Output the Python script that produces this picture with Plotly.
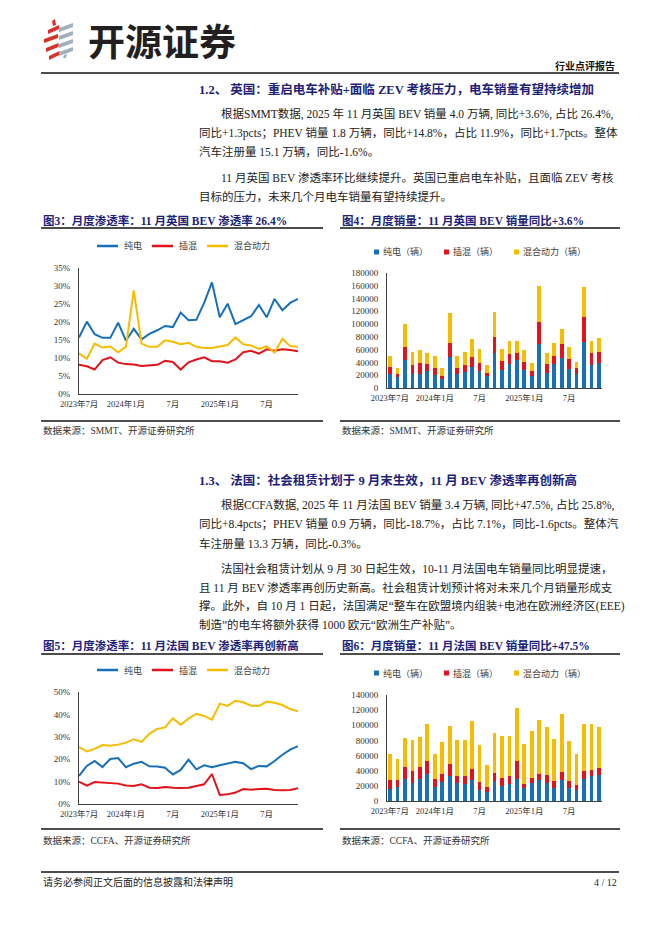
import plotly.graph_objects as go

W, H = 662, 936


def X(px):
    return px / W


def Y(py):
    return 1 - py / H


# ---------------- data ----------------
months = ["2023年7月", "2023年8月", "2023年9月", "2023年10月", "2023年11月", "2023年12月",
          "2024年1月", "2024年2月", "2024年3月", "2024年4月", "2024年5月", "2024年6月",
          "2024年7月", "2024年8月", "2024年9月", "2024年10月", "2024年11月", "2024年12月",
          "2025年1月", "2025年2月", "2025年3月", "2025年4月", "2025年5月", "2025年6月",
          "2025年7月", "2025年8月", "2025年9月", "2025年10月", "2025年11月"]
tick_vals = ["2023年7月", "2024年1月", "2024年7月", "2025年1月", "2025年7月"]
tick_text = ["2023年7月", "2024年1月", "7月", "2025年1月", "7月"]

series_names = ["纯电", "插混", "混合动力"]
bar_names = ["纯电（辆）", "插混（辆）", "混合动力（辆）"]

# UK penetration (%)
uk_bev_share = [15.7, 20.1, 16.6, 15.6, 15.6, 19.8, 14.8, 18.1, 15.2, 16.7, 17.7, 18.9, 18.6, 22.6, 20.5,
                20.6, 25.3, 31.0, 21.3, 25.1, 19.4, 20.5, 21.6, 24.7, 21.3, 26.4, 23.3, 25.3, 26.4]
uk_phev_share = [8.1, 7.7, 6.8, 9.4, 10.2, 8.7, 8.3, 8.2, 7.8, 7.9, 8.1, 9.2, 8.9, 6.8, 8.8,
                 9.6, 10.2, 9.1, 9.1, 8.7, 9.6, 11.6, 12.0, 11.2, 12.4, 12.0, 12.4, 12.2, 11.9]
uk_hev_share = [11.3, 9.8, 14.0, 12.9, 13.2, 11.6, 13.1, 28.8, 14.0, 13.1, 13.1, 14.9, 14.5, 13.8, 14.2,
                13.1, 12.8, 12.8, 13.2, 13.6, 15.7, 13.8, 13.5, 12.5, 13.2, 11.5, 15.3, 13.3, 13.1]

# UK monthly sales (vehicles)
uk_bev_sales = [21500, 17300, 44000, 22500, 22500, 27200, 19900, 13600, 48200, 21500, 24600, 33000, 26200, 18300,
                55500, 28800, 37700, 43500, 28800, 18800, 69100, 24100, 37200, 47600, 29800, 22500, 72300, 36100, 39300]
uk_phev_sales = [12000, 5200, 19400, 14100, 16800, 11000, 12000, 5800, 23000, 10400, 12000, 16200, 13600, 5300,
                 25100, 14100, 15200, 12000, 12000, 7900, 33500, 14100, 12500, 20500, 16300, 8400, 38700, 18400, 17800]
uk_hev_sales = [16800, 9500, 36600, 19900, 20400, 16800, 18400, 11500, 45500, 18400, 19900, 27800, 21500, 12000,
                38800, 18900, 20400, 18300, 18900, 12600, 56600, 16800, 20500, 24600, 18800, 9900, 47100, 18800, 20400]

# France penetration (%)
fr_bev_share = [12.5, 17.0, 19.2, 16.5, 20.1, 20.5, 16.4, 18.0, 18.8, 16.8, 16.7, 16.2, 13.2, 15.2, 19.8,
                15.5, 17.3, 16.4, 17.3, 17.9, 18.8, 18.2, 15.6, 17.0, 16.8, 19.2, 22.0, 24.3, 25.8]
fr_phev_share = [10.0, 8.2, 9.8, 9.5, 9.2, 9.1, 8.3, 8.0, 8.8, 7.3, 7.1, 7.6, 7.3, 7.1, 7.3,
                 8.0, 8.8, 13.4, 4.0, 4.3, 5.1, 6.7, 6.4, 6.7, 6.8, 6.3, 6.1, 6.3, 7.1]
fr_hev_share = [25.4, 23.5, 24.6, 26.3, 26.0, 26.5, 27.4, 28.9, 27.7, 31.3, 33.5, 34.2, 38.2, 35.4, 38.1,
                40.3, 39.3, 37.6, 44.8, 43.8, 46.1, 45.4, 43.9, 43.8, 45.7, 45.2, 44.2, 42.4, 41.4]

# France monthly sales (vehicles)
fr_bev_sales = [15500, 18500, 28700, 24300, 29100, 35800, 18500, 24700, 33600, 23800, 23000, 28300, 14600, 11500,
                26500, 19900, 22100, 29100, 17700, 23400, 27400, 24300, 17200, 27800, 17200, 15000, 29600, 33100, 34000]
fr_phev_sales = [12800, 8900, 15900, 15000, 15500, 17200, 10200, 11500, 15800, 9800, 9700, 14100, 10100, 6600,
                 10100, 10100, 11500, 24300, 5300, 6600, 8800, 9700, 8800, 11100, 9300, 6600, 9700, 8400, 9000]
fr_hev_sales = [33500, 28200, 38800, 41100, 40200, 48500, 34000, 41900, 49900, 47200, 48100, 63100, 49000, 30000,
                53000, 55700, 52900, 68900, 52100, 62700, 71100, 63600, 55700, 75400, 53400, 40200, 62200, 59600, 55200]

# ---------------- styles ----------------
C_BLUE = "#1670B9"
C_RED = "#E3121B"
C_YEL = "#F7BC00"
NAVY = "#1D2279"
SERIF = "'Liberation Serif', 'Noto Sans CJK SC', serif"
CJK = "'Noto Sans CJK SC', sans-serif"
AXC = "#404040"
TXT = "#222222"
LEGTXT = "#404040"

fig = go.Figure()

colors = [C_BLUE, C_RED, C_YEL]


def add_lines(vals, xa, ya):
    for name, v, c in zip(series_names, vals, colors):
        fig.add_trace(go.Scatter(x=months, y=v, name=name, mode="lines",
                                 line=dict(color=c, width=2), xaxis=xa, yaxis=ya,
                                 showlegend=False, hoverinfo="skip"))


def add_bars(vals, xa, ya):
    for name, v, c in zip(bar_names, vals, colors):
        fig.add_trace(go.Bar(x=months, y=v, name=name, marker=dict(color=c, line=dict(width=0)),
                             width=0.5, xaxis=xa, yaxis=ya, showlegend=False, hoverinfo="skip"))


add_lines([uk_bev_share, uk_phev_share, uk_hev_share], "x", "y")
add_bars([uk_bev_sales, uk_phev_sales, uk_hev_sales], "x2", "y2")
add_lines([fr_bev_share, fr_phev_share, fr_hev_share], "x3", "y3")
add_bars([fr_bev_sales, fr_phev_sales, fr_hev_sales], "x4", "y4")

tickfont = dict(family=SERIF, size=8.5, color="#333333")


def xaxis(x0, x1, yanchor, rng):
    return dict(domain=[X(x0), X(x1)], anchor=yanchor, type="category", categoryorder="array",
                categoryarray=months, range=rng, tickmode="array", tickvals=tick_vals,
                ticktext=tick_text, showline=True, linecolor=AXC, linewidth=1, ticks="",
                ticklabelstandoff=2,
                showgrid=False, zeroline=False, tickfont=tickfont, fixedrange=True,
                automargin=False)


def yaxis(y0, y1, xanchor, rng, dtick, suffix=""):
    return dict(domain=[Y(y0), Y(y1)], anchor=xanchor, range=rng, dtick=dtick, tick0=0,
                ticksuffix=suffix, showline=True, linecolor=AXC, linewidth=1, ticks="",
                ticklabelstandoff=6,
                showgrid=False, zeroline=False, tickfont=dict(family=SERIF, size=9, color="#333333"),
                tickformat="d", fixedrange=True, automargin=False)


fig.update_layout(
    template="none",
    width=W, height=H, autosize=False,
    margin=dict(l=0, r=0, t=0, b=0, pad=0, autoexpand=False),
    paper_bgcolor="white", plot_bgcolor="white",
    barmode="stack", showlegend=False,
    xaxis=xaxis(79, 298, "y", [0, 28]),
    yaxis=yaxis(394, 268, "x", [0, 35], 5, "%"),
    xaxis2=xaxis(387, 602, "y2", [-0.4, 28.4]),
    yaxis2=yaxis(388, 273, "x2", [0, 180000], 20000),
    xaxis3=xaxis(79, 298, "y3", [0, 28]),
    yaxis3=yaxis(804, 692, "x3", [0, 50], 10, "%"),
    xaxis4=xaxis(387, 602, "y4", [-0.4, 28.4]),
    yaxis4=yaxis(801, 695, "x4", [0, 140000], 20000),
)

shapes = []
annots = []


def hline(x0, x1, y, w=1.3, color="#111111"):
    shapes.append(dict(type="line", xref="paper", yref="paper", x0=X(x0), x1=X(x1), y0=Y(y), y1=Y(y),
                       line=dict(color=color, width=w)))


def text(x, y, s, size=11.5, color=TXT, family=SERIF, anchor="left", bold=False):
    if bold:
        s = "<b>" + s + "</b>"
    annots.append(dict(xref="paper", yref="paper", x=X(x), y=Y(y), text=s, showarrow=False,
                       xanchor=anchor, yanchor="middle", font=dict(size=size, color=color, family=family)))


def poly(pts, color):
    p = "M " + " L ".join(f"{X(a)} {Y(b)}" for a, b in pts) + " Z"
    shapes.append(dict(type="path", xref="paper", yref="paper", path=p, fillcolor=color,
                       line=dict(width=0)))


def line_legend(y):
    keys = [(97, 118, 122), (152, 173, 177), (207, 228, 232)]
    for (a, b, t), name, c in zip(keys, series_names, colors):
        hline(a, b, y, w=2.5, color=c)
        text(t, y, name, size=9, color=LEGTXT, family=CJK)


def bar_legend(y):
    keys = [374, 444, 514]
    for k, name, c in zip(keys, bar_names, colors):
        shapes.append(dict(type="rect", xref="paper", yref="paper", x0=X(k), x1=X(k + 5),
                           y0=Y(y + 2.5), y1=Y(y - 2.5), fillcolor=c, line=dict(width=0)))
        text(k + 7, y, name, size=9, color=LEGTXT, family=CJK)


# ---- header / logo ----
for i, yy in enumerate([27, 36, 45, 53]):
    dx = [4, 0, 2, 5][i]
    poly([(44 + dx, yy + 3), (58 + dx * 0.3, yy - 2), (58 + dx * 0.3, yy + 2), (44 + dx, yy + 7)], "#D8322A")
poly([(52, 21), (55, 19), (56, 25), (53, 26)], "#D8322A")
for i, yy in enumerate([25, 33, 41, 49]):
    poly([(59, yy + 3), (73, yy - 2), (73, yy + 2), (59, yy + 7)], "#9EB0BE")
poly([(64, 55), (67, 54), (66, 58), (63, 58)], "#9EB0BE")

text(86, 40, "开源证券", size=37, color="#231F20", family=CJK, bold=True)
text(617, 66, "行业点评报告", size=10, color="#111111", family=CJK, anchor="right", bold=True)
hline(41, 619, 73, 1.3)

# ---- UK section ----
text(197, 89, "1.2、 英国：重启电车补贴+面临 ZEV 考核压力，电车销量有望持续增加", size=12.5, color=NAVY,
     bold=True)
uk_lines = [
    (219, 114, "根据SMMT数据, 2025 年 11 月英国 BEV 销量 4.0 万辆, 同比+3.6%, 占比 26.4%,"),
    (197, 133, "同比+1.3pcts；PHEV 销量 1.8 万辆，同比+14.8%，占比 11.9%，同比+1.7pcts。整体"),
    (197, 152, "汽车注册量 15.1 万辆，同比-1.6%。"),
    (219, 177, "11 月英国 BEV 渗透率环比继续提升。英国已重启电车补贴，且面临 ZEV 考核"),
    (197, 196, "目标的压力，未来几个月电车销量有望持续提升。"),
]
for x, y, s in uk_lines:
    text(x, y, s, size=11.5)

text(41, 220, "图3：月度渗透率：11 月英国 BEV 渗透率 26.4%", size=11.5, color=NAVY, bold=True)
text(340, 220, "图4：月度销量：11 月英国 BEV 销量同比+3.6%", size=11.5, color=NAVY, bold=True)
hline(41, 323, 228, 1.3)
hline(340, 620, 228, 1.3)
line_legend(246)
bar_legend(252)
hline(41, 323, 421, 1.3)
hline(340, 620, 421, 1.3)
text(41, 431, "数据来源：SMMT、开源证券研究所", size=9.5, color="#333333")
text(340, 431, "数据来源：SMMT、开源证券研究所", size=9.5, color="#333333")

# ---- France section ----
text(197, 481, "1.3、 法国：社会租赁计划于 9 月末生效，11 月 BEV 渗透率再创新高", size=12.5, color=NAVY,
     bold=True)
fr_lines = [
    (219, 505, "根据CCFA数据, 2025 年 11 月法国 BEV 销量 3.4 万辆, 同比+47.5%, 占比 25.8%,"),
    (197, 524, "同比+8.4pcts；PHEV 销量 0.9 万辆，同比-18.7%，占比 7.1%，同比-1.6pcts。整体汽"),
    (197, 543, "车注册量 13.3 万辆，同比-0.3%。"),
    (219, 568, "法国社会租赁计划从 9 月 30 日起生效，10-11 月法国电车销量同比明显提速，"),
    (197, 587, "且 11 月 BEV 渗透率再创历史新高。社会租赁计划预计将对未来几个月销量形成支"),
    (197, 606, "撑。此外，自 10 月 1 日起，法国满足“整车在欧盟境内组装+电池在欧洲经济区(EEE)"),
    (197, 624, "制造”的电车将额外获得 1000 欧元“欧洲生产补贴”。"),
]
for x, y, s in fr_lines:
    text(x, y, s, size=11.5)

text(41, 645, "图5：月度渗透率：11 月法国 BEV 渗透率再创新高", size=11.5, color=NAVY, bold=True)
text(340, 645, "图6：月度销量：11 月法国 BEV 销量同比+47.5%", size=11.5, color=NAVY, bold=True)
hline(41, 323, 654, 1.3)
hline(340, 620, 654, 1.3)
line_legend(670)
bar_legend(673)
hline(41, 323, 829, 1.3)
hline(340, 620, 829, 1.3)
text(41, 840, "数据来源：CCFA、开源证券研究所", size=9.5, color="#333333")
text(340, 840, "数据来源：CCFA、开源证券研究所", size=9.5, color="#333333")

# ---- footer ----
hline(41, 619, 872, 1.3)
text(41, 882, "请务必参阅正文后面的信息披露和法律声明", size=10, color="#222222")
text(619, 882, "4 / 12", size=10, color="#222222", anchor="right")

fig.update_layout(shapes=shapes, annotations=annots)

fig.write_html("out.html", config={"displayModeBar": False, "staticPlot": True},
               post_script="document.body.style.margin='0';document.body.style.overflow='hidden';")
